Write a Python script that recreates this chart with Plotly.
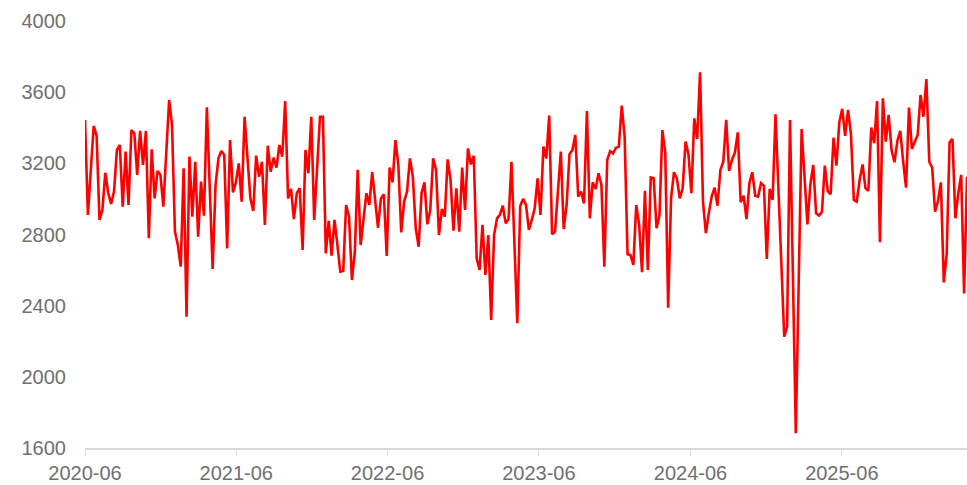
import pandas as pd
import plotly.graph_objects as go

start_date = "2020-06-01"

week_index = [
    0, 1, 3, 4, 5, 6, 7, 8, 9, 10, 11, 12, 13, 14, 15, 16, 17, 18, 19, 20, 21, 22, 23, 24,
    25, 26, 27, 29, 30, 31, 32, 33, 34, 35, 36, 37, 38, 39, 40, 41, 42, 44, 45, 46, 47, 48, 49,
    50, 51, 52, 53, 54, 55, 56, 57, 58, 59, 60, 61, 62, 63, 64, 65, 66, 67, 68, 69, 70, 71, 72,
    73, 74, 75, 76, 77, 78, 79, 81, 82, 83, 84, 85, 86, 87, 88, 89, 90, 91, 92, 93, 94, 95, 96,
    97, 98, 99, 101, 102, 103, 104, 105, 106, 107, 108, 109, 110, 111, 112, 113, 114, 115, 116,
    117, 118, 119, 120, 121, 122, 123, 124, 125, 126, 127, 128, 129, 130, 131, 132, 133, 134,
    135, 136, 137, 138, 139, 140, 141, 142, 143, 144, 145, 146, 147, 149, 150, 151, 152, 153,
    154, 155, 156, 157, 158, 159, 160, 161, 162, 163, 164, 165, 166, 167, 168, 169, 170, 171,
    172, 173, 174, 175, 176, 177, 178, 179, 180, 181, 182, 183, 184, 185, 186, 187, 188, 189,
    190, 191, 192, 193, 194, 195, 196, 197, 198, 199, 200, 201, 202, 203, 204, 205, 206, 207,
    208, 209, 210, 211, 212, 213, 214, 215, 216, 217, 218, 219, 220, 221, 222, 223, 224, 225,
    226, 227, 228, 229, 230, 231, 232, 233, 234, 235, 236, 237, 238, 241, 242, 243, 245, 247,
    248, 249, 250, 251, 252, 253, 254, 255, 256, 257, 258, 259, 260, 261, 262, 263, 264, 265,
    266, 267, 268, 269, 270, 271, 272, 273, 274, 275, 276, 277, 278, 279, 280, 281, 282, 283,
    284, 285, 286, 287, 288, 289, 290, 291, 292, 293, 294, 295, 296, 297, 298, 299, 300, 301,
    302, 303, 304,
]

values = [
    3444, 2910, 3410, 3355, 2882, 2938, 3147, 3033, 2972, 3041, 3275, 3303, 2957, 3266, 2966,
    3387, 3369, 3135, 3382, 3191, 3382, 2779, 3279, 3003,
    3157, 3135, 2957, 3556, 3416, 2816, 2741, 2619, 3172, 2338, 3238, 2900, 3209, 2788, 3097,
    2906, 3515, 2606, 3078, 3228, 3269, 3247, 2722,
    3331, 3037, 3093, 3200, 2985, 3462, 3209, 3003, 2932, 3243, 3125, 3209, 2854, 3299, 3153,
    3232, 3176, 3303, 3238, 3550, 3003, 3056, 2887,
    3032, 3060, 2713, 3275, 3144, 3462, 2882, 3462, 3462, 2694, 2876, 2681, 2882, 2741, 2591,
    2595, 2966, 2900, 2544, 2700, 3163, 2741, 2900,
    3032, 2966, 3150, 2838, 3003, 3026, 2679, 3176, 3093, 3331, 3191, 2812, 2985, 3041, 3228,
    3125, 2835, 2731, 3032,
    3093, 2857, 2938, 3228, 3163, 2797, 2943, 2900, 3222, 3106, 2821, 3060, 2816, 3176, 2938,
    3284, 3194, 3243,
    2666, 2601, 2854, 2573, 2797, 2320, 2797, 2891, 2910, 2962, 2863, 2887, 3209, 2301, 2960,
    3000, 2966, 2826,
    2882, 2947, 3116, 2910, 3294, 3228, 3468, 2801, 2816, 3041, 3266, 2831, 2966, 3251, 3275,
    3359, 3013, 3041,
    2975, 3494, 2891, 3093, 3056, 3144, 3078, 2619, 3219, 3269, 3256, 3288, 3294, 3524, 3350,
    2689, 2685, 2629,
    2966, 2854, 2588, 3045, 2601, 3121, 3116, 2835, 2906, 3387, 3260, 2389, 3003, 3150, 3116,
    3003, 3060, 3322,
    3251, 3032, 3453, 3337, 3712, 2985, 2807, 2919, 3013, 3063, 2962, 3163, 3209, 3444, 3157,
    3219, 3260, 3374,
    2981, 3018, 2887, 3088, 3150, 3018, 3013, 3088, 3074, 2662, 3056, 2994, 3476, 2226, 2282,
    3444, 1683, 3393,
    3116, 2857, 3078, 3191, 2919, 2906, 2928, 3187, 3045, 3026, 3344, 3187, 3431, 3506, 3355,
    3500, 3363, 2994,
    2985, 3106, 3194, 3060, 3045, 3401, 3313, 3550, 2756, 3566, 3322, 3472, 3275, 3206, 3326,
    3382, 3209, 3063,
    3513, 3281, 3322, 3359, 3584, 3462, 3674, 3209, 3176, 2928, 2988, 3093, 2531, 2689, 3318,
    3337, 2891, 3032,
    3135, 2469, 3125,
]

tick_dates = ["2020-06-01", "2021-06-01", "2022-06-01", "2023-06-01", "2024-06-01", "2025-06-01"]
tick_labels = ["2020-06", "2021-06", "2022-06", "2023-06", "2024-06", "2025-06"]
y_ticks = [1600, 2000, 2400, 2800, 3200, 3600, 4000]

dates = [pd.Timestamp(start_date) + pd.Timedelta(days=7 * i) for i in week_index]

fig = go.Figure(
    go.Scatter(
        x=dates,
        y=values,
        mode="lines",
        line=dict(color="#ff0000", width=2.6),
        hoverinfo="x+y",
    )
)

font = dict(family="Liberation Sans, Arial, sans-serif", size=20, color="#707070")

fig.update_layout(
    width=967,
    height=485,
    margin=dict(l=85, r=0, t=21, b=37),
    paper_bgcolor="white",
    plot_bgcolor="white",
    showlegend=False,
    font=font,
)

fig.update_xaxes(
    range=[dates[0], dates[-1]],
    tickvals=[pd.Timestamp(d) for d in tick_dates],
    ticktext=tick_labels,
    showgrid=False,
    zeroline=False,
    showline=True,
    linecolor="#d9d9d9",
    linewidth=1.5,
    ticks="outside",
    ticklen=6,
    tickcolor="#d9d9d9",
    tickfont=font,
)

fig.update_yaxes(
    range=[1600, 4000],
    tickvals=y_ticks,
    showgrid=False,
    zeroline=False,
    showline=False,
    ticks="",
    tickfont=font,
    ticklabelstandoff=18,
)

fig.write_html(
    "out.html",
    config={"displayModeBar": False},
    post_script="document.body.style.margin='0';document.body.style.overflow='hidden';",
)
